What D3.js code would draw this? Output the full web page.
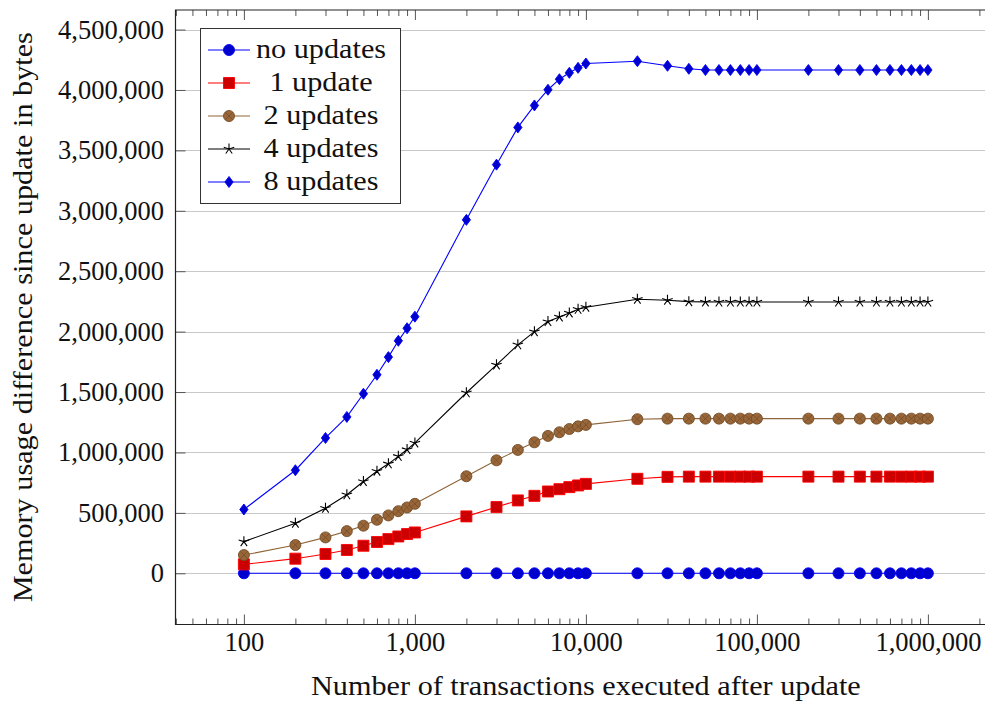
<!DOCTYPE html>
<html>
<head>
<meta charset="utf-8">
<script src="https://cdn.jsdelivr.net/npm/d3@7"></script>
<style>
  body { margin: 0; background: #fff; }
  text { font-family: "Liberation Serif", serif; fill: #111; }
</style>
</head>
<body>
<div id="chart"></div>
<script>
"use strict";

// number of transactions (x) - same for every series
var xValues = [100, 200, 300, 400, 500, 600, 700, 800, 900, 1000,
    2000, 3000, 4000, 5000, 6000, 7000, 8000, 9000, 10000,
    20000, 30000, 40000, 50000, 60000, 70000, 80000, 90000, 100000,
    200000, 300000, 400000, 500000, 600000, 700000, 800000, 900000, 1000000];

// memory usage difference in bytes
var noUpdates = [0, 0, 0, 0, 0, 0, 0, 0, 0, 0,
    0, 0, 0, 0, 0, 0, 0, 0, 0,
    0, 0, 0, 0, 0, 0, 0, 0, 0,
    0, 0, 0, 0, 0, 0, 0, 0, 0];
var oneUpdate = [74000, 121000, 160000, 193000, 228000, 259000, 283000, 305000, 325000, 338000,
    471000, 548000, 603000, 641000, 677000, 696000, 713000, 727000, 740000,
    782000, 798000, 800000, 800000, 800000, 800000, 800000, 800000, 800000,
    800000, 800000, 800000, 800000, 800000, 800000, 800000, 800000, 800000];
var twoUpdates = [151000, 234000, 297000, 349000, 394000, 443000, 479000, 514000, 545000, 575000,
    803000, 935000, 1021000, 1084000, 1137000, 1167000, 1194000, 1216000, 1228000,
    1275000, 1280000, 1280000, 1280000, 1280000, 1280000, 1280000, 1280000, 1280000,
    1280000, 1280000, 1280000, 1280000, 1280000, 1280000, 1280000, 1280000, 1280000];
var fourUpdates = [262000, 415000, 539000, 650000, 760000, 845000, 906000, 968000, 1024000, 1079000,
    1494000, 1725000, 1891000, 2000000, 2083000, 2122000, 2155000, 2185000, 2202000,
    2268000, 2260000, 2248000, 2246000, 2245000, 2245000, 2245000, 2245000, 2245000,
    2245000, 2245000, 2245000, 2245000, 2245000, 2245000, 2245000, 2245000, 2245000];
var eightUpdates = [528000, 853000, 1120000, 1294000, 1486000, 1643000, 1789000, 1924000, 2028000, 2124000,
    2925000, 3382000, 3690000, 3872000, 4002000, 4089000, 4142000, 4183000, 4219000,
    4238000, 4200000, 4175000, 4165000, 4165000, 4165000, 4165000, 4165000, 4165000,
    4165000, 4165000, 4165000, 4165000, 4165000, 4165000, 4165000, 4165000, 4165000];

var seriesNames = ["no updates", "1 update", "2 updates", "4 updates", "8 updates"];
var xTicks = [100, 1000, 10000, 100000, 1000000];
var yTicks = [0, 500000, 1000000, 1500000, 2000000, 2500000, 3000000, 3500000, 4000000, 4500000];

//styles per series (pgfplots default cycle look)
var styles = [
    {line: "#0000ff", fill: "#0000cc", stroke: "#0000ff", mark: "circle"},
    {line: "#ff0000", fill: "#cc0000", stroke: "#ff0000", mark: "square"},
    {line: "#8f6438", fill: "#99663a", stroke: "#734d26", mark: "otimes"},
    {line: "#000000", fill: "none", stroke: "#000000", mark: "star"},
    {line: "#0000ff", fill: "#0000cc", stroke: "#0000ff", mark: "diamond"}
];
var allSeries = [noUpdates, oneUpdate, twoUpdates, fourUpdates, eightUpdates];

var width = 985, height = 702;
var plotLeft = 175.5, plotTop = 10, plotBottom = 624.5;
var decade = 171;
var stretch = 1.12;

var svg = d3.select("#chart")
        .append("svg")
        .attr("width", width)
        .attr("height", height);

//log x axis, limits enlarged by 10% of the data range like pgfplots
var lx = [Math.log10(d3.min(xValues)), Math.log10(d3.max(xValues))];
var padX = (lx[1] - lx[0]) * 0.1;
var x = d3.scaleLog()
        .domain([Math.pow(10, lx[0] - padX), Math.pow(10, lx[1] + padX)])
        .range([plotLeft, plotLeft + (lx[1] - lx[0] + 2 * padX) * decade]);
var plotRight = x.range()[1];

var yMax = d3.max(allSeries, function (s) { return d3.max(s); });
var yMin = 0;
var padY = (yMax - yMin) * 0.1;
var y = d3.scaleLinear()
        .domain([yMin - padY, yMax + padY])
        .range([plotBottom, plotTop]);

//clip for the plot area
svg.append("defs").append("clipPath").attr("id", "plotclip")
        .append("rect")
        .attr("x", plotLeft).attr("y", plotTop)
        .attr("width", plotRight - plotLeft).attr("height", plotBottom - plotTop);

//horizontal grid lines
svg.append("g").selectAll("line")
        .data(yTicks)
        .enter()
        .append("line")
        .attr("x1", plotLeft).attr("x2", plotRight)
        .attr("y1", function (d) { return Math.round(y(d)) + 0.5; })
        .attr("y2", function (d) { return Math.round(y(d)) + 0.5; })
        .style("stroke", "#c8c8c8")
        .style("stroke-width", 1);

//minor x ticks
var minorTicks = [];
[10, 100, 1000, 10000, 100000, 1000000].forEach(function (base) {
    [2, 3, 4, 5, 6, 7, 8, 9].forEach(function (m) {
        var v = base * m;
        if (v > x.domain()[0] && v < x.domain()[1]) {
            minorTicks.push(v);
        }
    });
});

function tickStyle(g) {
    g.select(".domain").remove();
    g.selectAll(".tick line").style("stroke", "#555").style("stroke-width", 1);
    g.selectAll(".tick text")
            .style("font-size", "26.5px")
            .style("font-family", "Liberation Serif")
            .style("fill", "#111");
}

svg.append("g")
        .attr("transform", "translate(0," + plotBottom + ")")
        .call(d3.axisBottom(x).tickValues(minorTicks).tickFormat("").tickSizeInner(-6).tickSizeOuter(0))
        .call(tickStyle);
svg.append("g")
        .attr("transform", "translate(0," + plotTop + ")")
        .call(d3.axisTop(x).tickValues(minorTicks).tickFormat("").tickSizeInner(-6).tickSizeOuter(0))
        .call(tickStyle);

//major x ticks and labels
svg.append("g")
        .attr("transform", "translate(0," + plotBottom + ")")
        .call(d3.axisBottom(x).tickValues(xTicks).tickFormat(d3.format(","))
                .tickSizeInner(-10).tickSizeOuter(0).tickPadding(8))
        .call(tickStyle);
svg.append("g")
        .attr("transform", "translate(0," + plotTop + ")")
        .call(d3.axisTop(x).tickValues(xTicks).tickFormat("").tickSizeInner(-10).tickSizeOuter(0))
        .call(tickStyle);

//y ticks and labels
svg.append("g")
        .attr("transform", "translate(" + plotLeft + ",0)")
        .call(d3.axisLeft(y).tickValues(yTicks).tickFormat(d3.format(","))
                .tickSizeInner(-10).tickSizeOuter(0).tickPadding(11.5))
        .call(tickStyle);

//frame (right side is outside the picture)
svg.append("path")
        .attr("d", "M" + plotRight + "," + plotTop + "H" + plotLeft + "V" + plotBottom + "H" + plotRight)
        .style("fill", "none")
        .style("stroke", "#222")
        .style("stroke-width", 1.2);

//marker shapes
function markPath(type) {
    var r = 5.5;
    if (type === "square") {
        return "M" + (-r) + "," + (-r) + "H" + r + "V" + r + "H" + (-r) + "Z";
    }
    if (type === "diamond") {
        return "M0," + (-r) + "L" + (0.75 * r) + ",0L0," + r + "L" + (-0.75 * r) + ",0Z";
    }
    if (type === "star") {
        var p = "";
        for (var i = 0; i < 5; i++) {
            var a = -Math.PI / 2 + i * 2 * Math.PI / 5;
            p += "M0,0L" + (r * Math.cos(a)).toFixed(2) + "," + (r * Math.sin(a)).toFixed(2);
        }
        return p;
    }
    return d3.arc()({innerRadius: 0, outerRadius: r, startAngle: 0, endAngle: 2 * Math.PI});
}

function drawMark(g, style, px, py) {
    var m = g.append("g").attr("transform", "translate(" + px + "," + py + ")");
    m.append("path")
            .attr("d", markPath(style.mark))
            .style("fill", style.fill)
            .style("stroke", style.stroke)
            .style("stroke-width", style.mark === "star" ? 1.1 : 0.9);
    if (style.mark === "otimes") {
        var k = 5.5 * Math.SQRT1_2;
        m.append("path")
                .attr("d", "M" + (-k) + "," + (-k) + "L" + k + "," + k + "M" + (-k) + "," + k + "L" + k + "," + (-k))
                .style("stroke", style.stroke)
                .style("stroke-width", 0.8);
    }
}

//lines and marks, one series after the other
var plot = svg.append("g").attr("clip-path", "url(#plotclip)");
var line = d3.line()
        .x(function (d, i) { return x(xValues[i]); })
        .y(function (d) { return y(d); });

allSeries.forEach(function (values, s) {
    var g = plot.append("g").attr("class", "series-" + s);
    g.append("path")
            .datum(values)
            .attr("d", line)
            .style("fill", "none")
            .style("stroke", styles[s].line)
            .style("stroke-width", 1.1);
    values.forEach(function (v, i) {
        drawMark(g, styles[s], x(xValues[i]), y(v));
    });
});

//axis titles
svg.append("text")
        .attr("transform", "translate(" + ((plotLeft + plotRight) / 2) + ",695) scale(" + stretch + ",1)")
        .attr("text-anchor", "middle")
        .style("font-size", "27px")
        .text("Number of transactions executed after update");

svg.append("text")
        .attr("transform", "translate(32," + ((plotTop + plotBottom) / 2) + ") rotate(-90) scale(" + stretch + ",1)")
        .attr("text-anchor", "middle")
        .style("font-size", "27px")
        .text("Memory usage difference since update in bytes");

//legend
var legend = svg.append("g").attr("class", "legend");
legend.append("rect")
        .attr("x", 200.5).attr("y", 28.5)
        .attr("width", 200).attr("height", 175)
        .style("fill", "#fff")
        .style("stroke", "#333")
        .style("stroke-width", 1);

seriesNames.forEach(function (name, i) {
    var ly = 50 + i * 33;
    legend.append("line")
            .attr("x1", 208).attr("x2", 250)
            .attr("y1", ly).attr("y2", ly)
            .style("stroke", styles[i].line)
            .style("stroke-width", 1.1);
    drawMark(legend, styles[i], 229, ly);
    legend.append("text")
            .attr("transform", "translate(321," + (ly + 8) + ") scale(" + stretch + ",1)")
            .attr("text-anchor", "middle")
            .style("font-size", "27px")
            .text(name);
});
</script>
</body>
</html>
